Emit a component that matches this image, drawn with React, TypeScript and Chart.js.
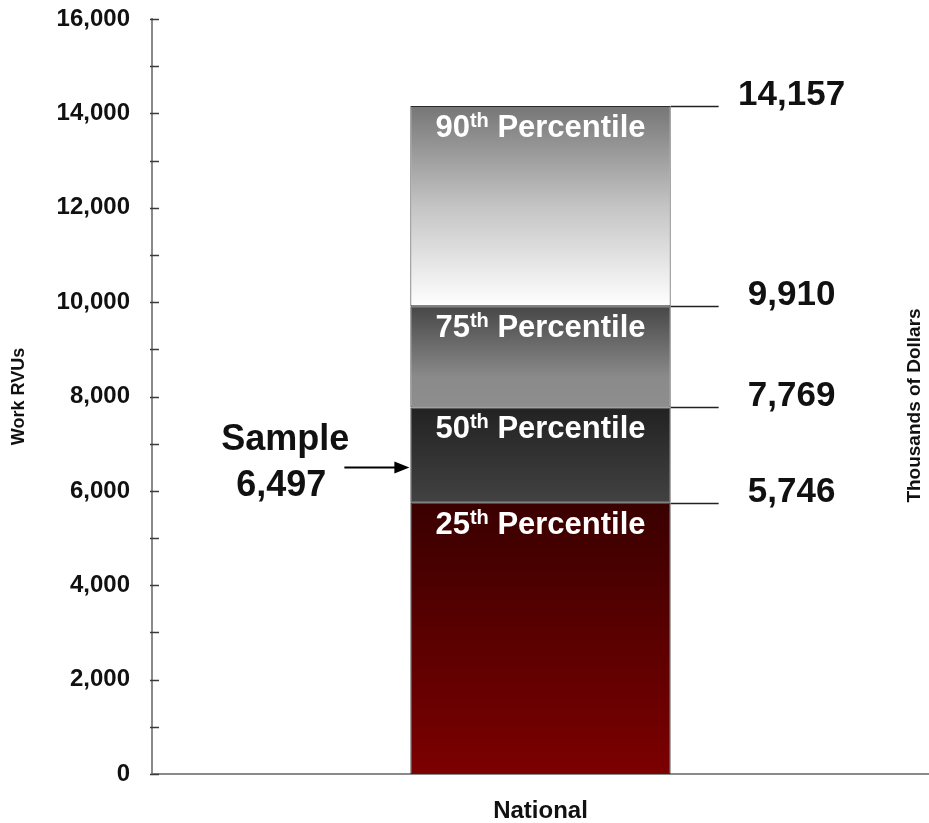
import { useEffect, useRef } from 'react';
import { Chart, registerables } from 'chart.js';

Chart.register(...registerables);

// ---- data ----
const categories = ['National'];
const percentileRanks = [25, 50, 75, 90];
const percentileValues = [5746, 7769, 9910, 14157];
const sampleLabel = 'Sample';
const sampleValue = 6497;
const yMin = 0;
const yMax = 16000;
const yMajorStep = 2000;
const yMinorStep = 1000;
const leftTitle = 'Work RVUs';
const rightTitle = 'Thousands of Dollars';

const FONT = '"Liberation Sans", Arial, Helvetica, sans-serif';

// vertical gradient stops for each band, top of band first
const bandGradients: [number, string][][] = [
  [[0, '#3a0000'], [1, '#7c0000']],
  [[0, '#222222'], [1, '#424242']],
  [[0, '#474747'], [0.7, '#8a8a8a'], [1, '#8e8e8e']],
  [[0, '#767676'], [0.5, '#c4c4c4'], [1, '#ffffff']],
];

const bandLows = percentileValues.map((_, i) => (i === 0 ? 0 : percentileValues[i - 1]));
const bandSizes = percentileValues.map((v, i) => v - bandLows[i]);

const fmt = (n: number) => n.toLocaleString('en-US');

function bandFill(i: number) {
  return (context: any) => {
    const chart = context.chart;
    const area = chart.chartArea;
    const ys = chart.scales?.y;
    if (!area || !ys) return bandGradients[i][0][1];
    const top = ys.getPixelForValue(percentileValues[i]);
    const bottom = ys.getPixelForValue(bandLows[i]);
    const g = chart.ctx.createLinearGradient(0, top, 0, bottom);
    bandGradients[i].forEach(([stop, color]) => g.addColorStop(stop, color));
    return g;
  };
}

const overlayPlugin = {
  id: 'percentileOverlay',
  afterDraw(chart: any) {
    const ctx: CanvasRenderingContext2D = chart.ctx;
    const ys = chart.scales.y;
    const area = chart.chartArea;
    const bar = chart.getDatasetMeta(0).data[0] as any;
    const half = bar.width / 2;
    const barLeft = bar.x - half;
    const barRight = bar.x + half;

    ctx.save();

    // inward tick marks on the value axis
    ctx.strokeStyle = '#3a3a3a';
    ctx.lineWidth = 1.5;
    for (let v = yMin; v <= yMax; v += yMinorStep) {
      const py = Math.round(ys.getPixelForValue(v)) + 0.5;
      ctx.beginPath();
      ctx.moveTo(area.left - 2, py);
      ctx.lineTo(area.left + 7, py);
      ctx.stroke();
    }

    // connector lines and value labels on the right of the bar
    ctx.strokeStyle = '#222222';
    ctx.lineWidth = 1.5;
    ctx.fillStyle = '#111111';
    ctx.font = `bold 35px ${FONT}`;
    ctx.textAlign = 'center';
    ctx.textBaseline = 'alphabetic';
    percentileValues.forEach((v) => {
      const py = Math.round(ys.getPixelForValue(v)) + 0.5;
      ctx.beginPath();
      ctx.moveTo(barRight, py);
      ctx.lineTo(barRight + 48, py);
      ctx.stroke();
      ctx.fillText(fmt(v), barRight + 121, py - 2);
    });

    // band captions inside the bar, with superscript ordinal suffix
    ctx.fillStyle = '#ffffff';
    percentileRanks.forEach((rank, i) => {
      const top = ys.getPixelForValue(percentileValues[i]);
      const base = top + 31;
      const num = String(rank);
      const sup = 'th';
      const rest = ' Percentile';
      ctx.font = `bold 31px ${FONT}`;
      const wNum = ctx.measureText(num).width;
      const wRest = ctx.measureText(rest).width;
      ctx.font = `bold 20px ${FONT}`;
      const wSup = ctx.measureText(sup).width;
      let x = bar.x - (wNum + wSup + wRest) / 2;
      ctx.textAlign = 'left';
      ctx.font = `bold 31px ${FONT}`;
      ctx.fillText(num, x, base);
      x += wNum;
      ctx.font = `bold 20px ${FONT}`;
      ctx.fillText(sup, x, base - 10);
      x += wSup;
      ctx.font = `bold 31px ${FONT}`;
      ctx.fillText(rest, x, base);
    });

    // sample marker: arrow pointing at the bar, with caption
    const sy = Math.round(ys.getPixelForValue(sampleValue)) + 0.5;
    ctx.strokeStyle = '#000000';
    ctx.fillStyle = '#000000';
    ctx.lineWidth = 2;
    ctx.beginPath();
    ctx.moveTo(barLeft - 66, sy);
    ctx.lineTo(barLeft - 14, sy);
    ctx.stroke();
    ctx.beginPath();
    ctx.moveTo(barLeft - 1, sy);
    ctx.lineTo(barLeft - 16, sy - 6);
    ctx.lineTo(barLeft - 16, sy + 6);
    ctx.closePath();
    ctx.fill();

    ctx.fillStyle = '#111111';
    ctx.textAlign = 'center';
    ctx.font = `bold 36px ${FONT}`;
    ctx.fillText(sampleLabel, barLeft - 125, sy - 18);
    ctx.fillText(fmt(sampleValue), barLeft - 129, sy + 28);

    // secondary axis title on the right
    ctx.translate(chart.width - 14, (area.top + area.bottom) / 2 + 9);
    ctx.rotate(-Math.PI / 2);
    ctx.font = `bold 19px ${FONT}`;
    ctx.textAlign = 'center';
    ctx.textBaseline = 'middle';
    ctx.fillText(rightTitle, 0, 0);

    ctx.restore();
  },
};

export default function App() {
  const canvasRef = useRef<HTMLCanvasElement | null>(null);

  useEffect(() => {
    const canvas = canvasRef.current;
    if (!canvas) return;

    const chart = new Chart(canvas, {
      type: 'bar',
      data: {
        labels: categories,
        datasets: bandSizes.map((size, i) => ({
          label: `${percentileRanks[i]}th Percentile`,
          data: [size],
          backgroundColor: bandFill(i),
          borderColor: '#2a2a2a',
          borderWidth: 1,
          borderSkipped: false,
          barPercentage: 0.335,
          categoryPercentage: 1,
        })),
      },
      options: {
        responsive: false,
        animation: false,
        layout: { padding: { top: 19, left: 0, right: 0, bottom: 0 } },
        plugins: {
          legend: { display: false },
          tooltip: { enabled: false },
        },
        scales: {
          x: {
            stacked: true,
            grid: { display: false },
            border: { display: true, color: '#8a8a8a', width: 2 },
            ticks: {
              padding: 15,
              color: '#111111',
              font: { family: FONT, size: 24, weight: 'bold' },
            },
            afterFit: (scale: any) => {
              scale.height = 49;
              scale.paddingLeft = 0;
              scale.paddingRight = 0;
            },
          },
          y: {
            stacked: true,
            min: yMin,
            max: yMax,
            grid: { display: false, drawTicks: false },
            border: { display: true, color: '#8a8a8a', width: 2 },
            ticks: {
              stepSize: yMinorStep,
              autoSkip: false,
              padding: 22,
              color: '#111111',
              font: { family: FONT, size: 24, weight: 'bold' },
              callback: (value: any) =>
                Number(value) % yMajorStep === 0 ? fmt(Number(value)) : '',
            },
            title: {
              display: true,
              text: leftTitle,
              color: '#111111',
              padding: { top: 8, bottom: 0 },
              font: { family: FONT, size: 18, weight: 'bold' },
            },
            afterFit: (scale: any) => {
              scale.width = 152;
              scale.paddingTop = 0;
              scale.paddingBottom = 0;
            },
          },
        },
      },
      plugins: [overlayPlugin],
    });

    return () => chart.destroy();
  }, []);

  return (
    <div style={{ position: 'absolute', left: 0, top: 0, width: 929, height: 823, background: '#ffffff' }}>
      <canvas ref={canvasRef} width={929} height={823} />
    </div>
  );
}
